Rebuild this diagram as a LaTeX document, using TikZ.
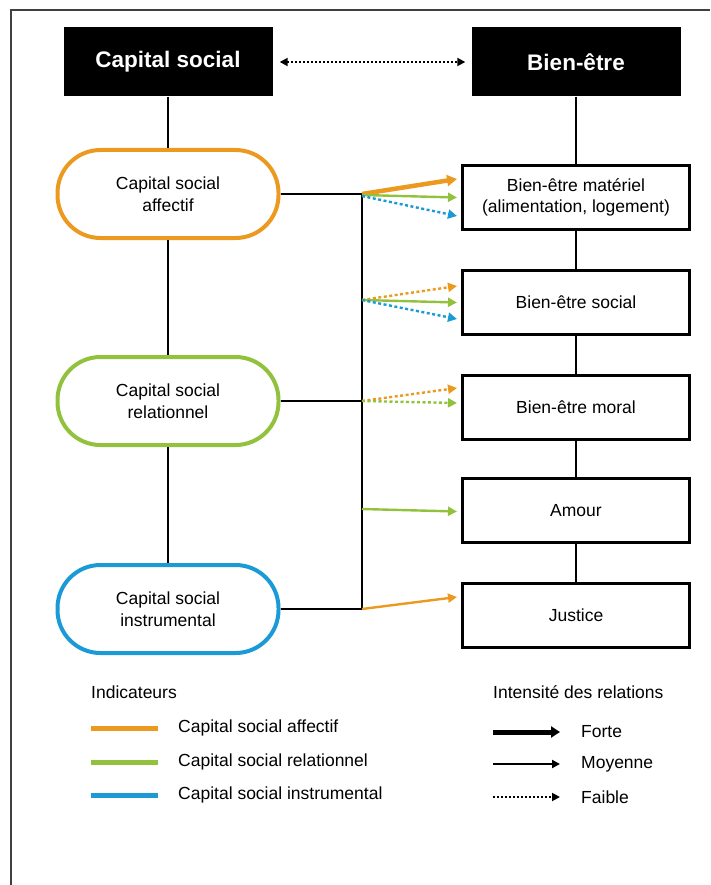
\documentclass[tikz,border=0pt]{standalone}
\usepackage{fontspec}
\setmainfont{Liberation Sans}
\usetikzlibrary{arrows.meta}
\definecolor{corange}{HTML}{EB9A1F}
\definecolor{cgreen}{HTML}{92C13E}
\definecolor{cblue}{HTML}{1B9AD6}
\begin{document}
\begin{tikzpicture}[x=1pt,y=-1pt,
  txt/.style={font=\fontsize{17.5}{21.5}\selectfont, align=center},
  head/.style={fill=black, text=white, inner sep=0pt, font=\bfseries\fontsize{22.5}{26}\selectfont, minimum width=209pt, minimum height=69pt},
  pill/.style={txt, draw, line width=4pt, rounded corners=43pt, minimum width=221pt, minimum height=88pt, inner sep=0pt},
  wbox/.style={txt, draw, line width=3pt, minimum width=227pt, minimum height=64pt, inner sep=0pt},
  conn/.style={line width=2.2pt},
  tipn/.style={-{Triangle[length=9pt,width=9pt]}},
  dotl/.style={dash pattern=on 3pt off 2.5pt},
  lab/.style={font=\fontsize{17.5}{21.5}\selectfont, anchor=west, inner sep=0pt}
]
\useasboundingbox (0,0) rectangle (710,885);
% frame
\draw[line width=2pt, black!75] (11,885) -- (11,10) -- (710,10);

% headers
\node[head] (cs) at (168,62) {Capital social};
\node[head] (be) at (576,62) {Bien-être};
\draw[line width=1.8pt, dash pattern=on 2pt off 2pt, {Triangle[length=8pt,width=8pt]}-{Triangle[length=8pt,width=8pt]}, shorten <=7pt, shorten >=6pt] (cs.east) -- (be.west);

% pills
\node[pill, corange] (aff) at (168,194) {\color{black}Capital social\\\color{black}affectif};
\node[pill, cgreen] (rel) at (168,401) {\color{black}Capital social\\\color{black}relationnel};
\node[pill, cblue] (ins) at (168,609) {\color{black}Capital social\\\color{black}instrumental};

\draw[conn] (cs.south) -- (aff.north);
\draw[conn] (aff.south) -- (rel.north);
\draw[conn] (rel.south) -- (ins.north);

% right boxes
\node[wbox] (mat) at (576,197.5) {Bien-être matériel\\(alimentation, logement)};
\node[wbox] (soc) at (576,302.5) {Bien-être social};
\node[wbox] (mor) at (576,407) {Bien-être moral};
\node[wbox] (amo) at (576,510.5) {Amour};
\node[wbox] (jus) at (576,615) {Justice};

\draw[conn] (be.south) -- (mat.north);
\draw[conn] (mat.south) -- (soc.north);
\draw[conn] (soc.south) -- (mor.north);
\draw[conn] (mor.south) -- (amo.north);
\draw[conn] (amo.south) -- (jus.north);

% bus
\coordinate (j1) at (362,194);
\coordinate (j2) at (362,300);
\coordinate (j3) at (362,401);
\coordinate (j4) at (362,509);
\coordinate (j5) at (362,609);
\draw[conn] (aff.east) -- (j1);
\draw[conn] (rel.east) -- (j3);
\draw[conn] (ins.east) -- (j5);
\draw[conn] ([yshift=1.1pt]j1) -- ([yshift=-1.1pt]j5);

% arrows
\draw[corange, line width=4.5pt, -{Triangle[length=10pt,width=11pt]}] (j1) -- ([xshift=-4pt,yshift=18.5pt]mat.west);
\draw[cgreen, line width=2.4pt, tipn] ([yshift=-1pt]j1) -- ([xshift=-4pt]mat.west);
\draw[cblue, line width=2.4pt, dotl, tipn] ([yshift=-2pt]j1) -- ([xshift=-4pt,yshift=-18.5pt]mat.west);

\draw[corange, line width=2.4pt, dotl, tipn] (j2) -- ([xshift=-4pt,yshift=16.5pt]soc.west);
\draw[cgreen, line width=2.4pt, tipn] (j2) -- ([xshift=-4pt]soc.west);
\draw[cblue, line width=2.4pt, dotl, tipn] (j2) -- ([xshift=-4pt,yshift=-16.5pt]soc.west);

\draw[corange, line width=2.4pt, dotl, tipn] (j3) -- ([xshift=-4pt,yshift=19pt]mor.west);
\draw[cgreen, line width=2.4pt, dotl, tipn] (j3) -- ([xshift=-4pt,yshift=4pt]mor.west);

\draw[cgreen, line width=2.4pt, tipn] (j4) -- ([xshift=-4pt,yshift=-1pt]amo.west);

\draw[corange, line width=2.4pt, tipn] (j5) -- ([xshift=-4pt,yshift=18pt]jus.west);

% legend
\node[lab] (ind) at (91,692) {Indicateurs};
\coordinate (lo1) at (91,728); \coordinate (lo2) at (158,728);
\coordinate (lg1) at (91,762); \coordinate (lg2) at (158,762);
\coordinate (lb1) at (91,795); \coordinate (lb2) at (158,795);
\draw[corange, line width=5pt] (lo1) -- (lo2);
\draw[cgreen, line width=5pt] (lg1) -- (lg2);
\draw[cblue, line width=5pt] (lb1) -- (lb2);
\node[lab] (t1) at (178,728) {Capital social affectif};
\node[lab] (t2) at (178,762) {Capital social relationnel};
\node[lab] (t3) at (178,795) {Capital social instrumental};

\node[lab] (int) at (493,692) {Intensité des relations};
\coordinate (a1) at (493,732); \coordinate (a2) at (560,732);
\coordinate (b1) at (493,764); \coordinate (b2) at (560,764);
\coordinate (c1) at (493,797); \coordinate (c2) at (560,797);
\draw[line width=5pt, -{Triangle[length=9pt,width=11pt]}] (a1) -- (a2);
\draw[line width=2pt, -{Triangle[length=8pt,width=8pt]}] (b1) -- (b2);
\draw[line width=1.8pt, dash pattern=on 2pt off 2pt, -{Triangle[length=8pt,width=8pt]}] (c1) -- (c2);
\node[lab] (f1) at (581,732) {Forte};
\node[lab] (f2) at (581,764) {Moyenne};
\node[lab] (f3) at (581,797) {Faible};
\end{tikzpicture}
\end{document}
